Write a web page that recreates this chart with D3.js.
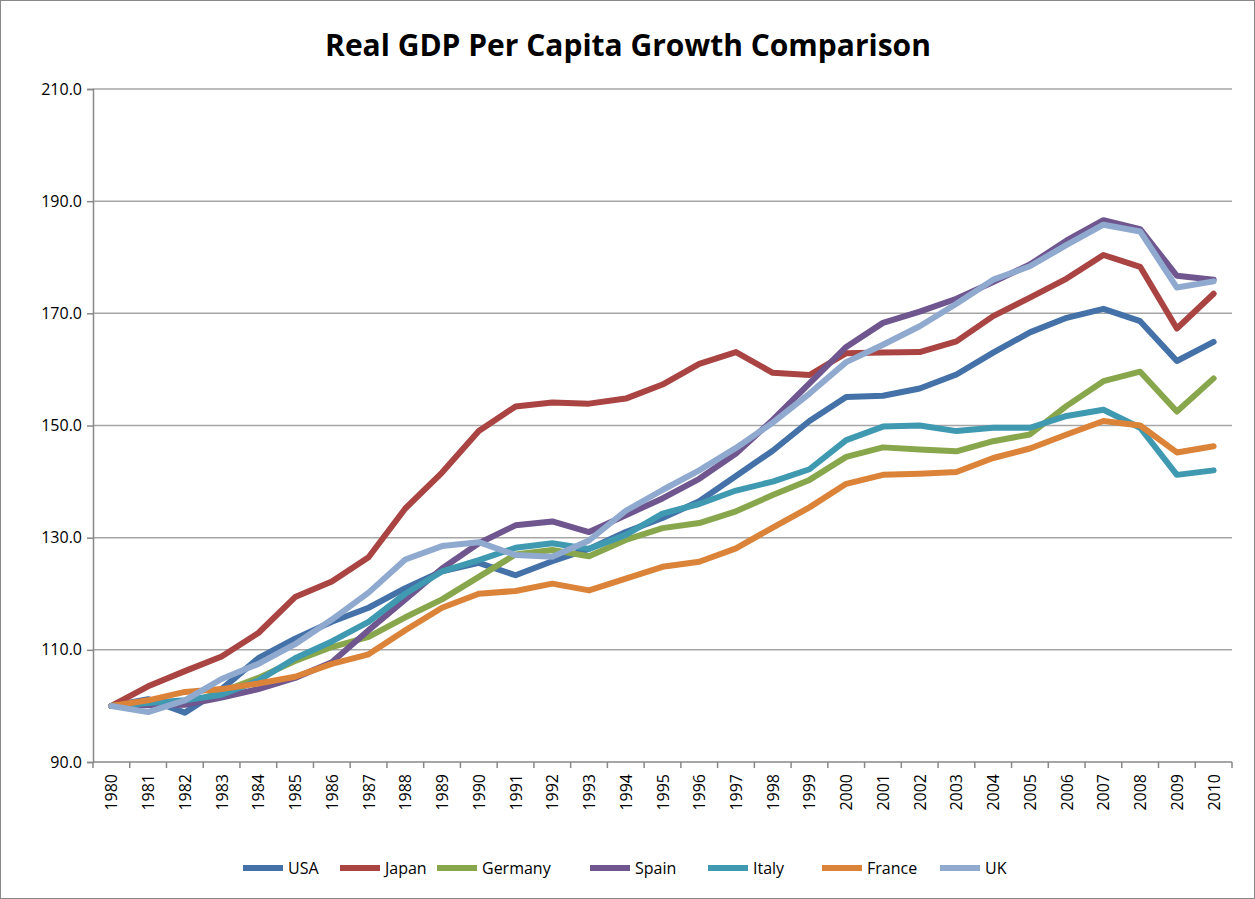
<!DOCTYPE html>
<html>
<head>
<meta charset="utf-8">
<script src="https://cdn.jsdelivr.net/npm/d3@7"></script>
<style>
  body { margin: 0; background: #fff; }
  text { font-family: "Open Sans", "DejaVu Sans", sans-serif; }
</style>
</head>
<body>
<svg id="chart" width="1255" height="899"></svg>
<script>
const years = d3.range(1980, 2011)
const yTicks = [90, 110, 130, 150, 170, 190, 210]

const usa = [100, 101.2, 98.8, 103, 108.5, 112, 115, 117.5, 121, 124, 125.5, 123.3, 125.8, 128, 131, 133.5, 136.5, 141, 145.5, 150.8, 155.1, 155.3, 156.6, 159.1, 163, 166.6, 169.2, 170.8, 168.6, 161.5, 164.9]
const japan = [100, 103.5, 106.2, 108.8, 113, 119.4, 122.2, 126.5, 135.2, 141.6, 149, 153.4, 154.1, 153.9, 154.8, 157.3, 161, 163.1, 159.4, 159, 162.9, 163, 163.1, 165, 169.5, 172.8, 176.2, 180.4, 178.3, 167.3, 173.5]
const germany = [100, 100.5, 100.3, 102.5, 105, 108, 110.5, 112.3, 115.8, 119, 123, 127, 127.8, 126.7, 129.6, 131.7, 132.6, 134.7, 137.6, 140.3, 144.4, 146.1, 145.7, 145.4, 147.2, 148.4, 153.5, 157.9, 159.6, 152.5, 158.4]
const spain = [100, 100.1, 100.2, 101.5, 103, 105, 107.8, 113.5, 119, 124.5, 129, 132.2, 132.9, 131, 134, 137, 140.5, 145, 151, 157.5, 164, 168.3, 170.3, 172.6, 175.6, 178.7, 183, 186.6, 185, 176.7, 176]
const italy = [100, 100.5, 101, 102, 104.5, 108.5, 111.5, 115, 120, 124, 126, 128.2, 129, 128, 130.5, 134.3, 136, 138.4, 140, 142.2, 147.4, 149.8, 150, 149, 149.6, 149.6, 151.7, 152.8, 149.6, 141.2, 142]
const france = [100, 101, 102.5, 103, 104, 105.2, 107.5, 109.2, 113.5, 117.5, 120, 120.5, 121.8, 120.6, 122.7, 124.8, 125.7, 128.1, 131.8, 135.4, 139.6, 141.2, 141.4, 141.7, 144.2, 145.9, 148.4, 150.8, 150, 145.2, 146.3]
const uk = [100, 98.9, 101, 104.8, 107.5, 111, 115.4, 120.2, 126.1, 128.5, 129.2, 126.9, 126.6, 129.5, 134.8, 138.5, 142, 146, 150.5, 155.7, 161.3, 164.4, 167.7, 171.7, 176, 178.4, 182.2, 185.8, 184.6, 174.6, 175.7]

const seriesNames = ['USA', 'Japan', 'Germany', 'Spain', 'Italy', 'France', 'UK']
const seriesValues = [usa, japan, germany, spain, italy, france, uk]
const colors = ['#4371a8', '#a94442', '#88a64c', '#6f568f', '#3f99b0', '#dc833a', '#90a9cf']

const svg = d3.select('#chart')
const plotLeft = 93, plotRight = 1232, plotTop = 89, plotBottom = 762

svg.append('rect').attr('x', 0.5).attr('y', 0.5).attr('width', 1254).attr('height', 898)
  .attr('fill', '#fff').attr('stroke', '#888')

svg.append('text').attr('x', 628).attr('y', 56).attr('text-anchor', 'middle')
  .attr('font-size', 30).attr('font-weight', 'bold').attr('fill', '#000')
  .text('Real GDP Per Capita Growth Comparison')

const x = d3.scaleBand().domain(years).range([plotLeft, plotRight])
const y = d3.scaleLinear().domain([90, 210]).range([plotBottom, plotTop])

// gridlines
svg.append('g').selectAll('line').data(yTicks.slice(1)).join('line')
  .attr('x1', plotLeft).attr('x2', plotRight)
  .attr('y1', d => y(d)).attr('y2', d => y(d))
  .attr('stroke', '#a6a6a6').attr('stroke-width', 1.5)

// y axis
const yAxis = svg.append('g').attr('transform', `translate(${plotLeft},0)`)
  .call(d3.axisLeft(y).tickValues(yTicks).tickFormat(d3.format('.1f')).tickSize(6).tickPadding(5))
yAxis.selectAll('text').attr('font-size', 16).attr('fill', '#000')
yAxis.selectAll('line, path').attr('stroke', '#888').attr('stroke-width', 1.5)

// x axis, ticks at category boundaries
const xAxis = svg.append('g').attr('transform', `translate(0,${plotBottom})`)
xAxis.append('line').attr('x1', plotLeft).attr('x2', plotRight).attr('stroke', '#888').attr('stroke-width', 1.5)
xAxis.selectAll('line.tk').data(years.concat([2011])).join('line').attr('class', 'tk')
  .attr('x1', d => d === 2011 ? plotRight : x(d)).attr('x2', d => d === 2011 ? plotRight : x(d))
  .attr('y1', 0).attr('y2', 6).attr('stroke', '#888').attr('stroke-width', 1.5)
xAxis.selectAll('text').data(years).join('text')
  .attr('transform', d => `translate(${x(d) + x.bandwidth() / 2 + 6},12) rotate(-90)`)
  .attr('text-anchor', 'end').attr('font-size', 16).attr('fill', '#000')
  .text(d => d)

const line = d3.line().x((d, i) => x(years[i]) + x.bandwidth() / 2).y(d => y(d))
svg.append('g').selectAll('path').data(seriesValues).join('path')
  .attr('d', line).attr('fill', 'none')
  .attr('stroke', (d, i) => colors[i]).attr('stroke-width', 6)
  .attr('stroke-linejoin', 'round').attr('stroke-linecap', 'round')

// legend
const legendX = [243, 340, 437, 590, 708, 822, 940]
const lg = svg.append('g').selectAll('g').data(seriesNames).join('g')
  .attr('transform', (d, i) => `translate(${legendX[i]},868)`)
lg.append('line').attr('x1', 0).attr('x2', 40)
  .attr('stroke', (d, i) => colors[i]).attr('stroke-width', 6)
lg.append('text').attr('x', 45).attr('y', 6).attr('font-size', 16).attr('fill', '#000').text(d => d)
</script>
</body>
</html>
